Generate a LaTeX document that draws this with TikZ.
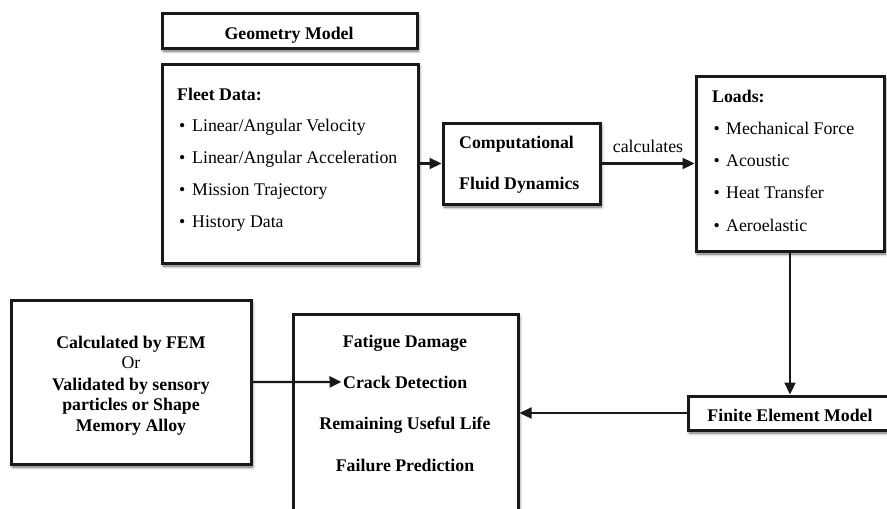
\documentclass[tikz,border=0pt]{standalone}
\usepackage{fontspec}
\setmainfont{Liberation Serif}
\usetikzlibrary{arrows.meta,shadows.blur}
\begin{document}
\begin{tikzpicture}[x=1pt,y=-1pt,
  box/.style={draw=black!90, line width=3pt, fill=white, inner sep=0pt,
    blur shadow={shadow xshift=1.5pt, shadow yshift=-3pt,
      shadow blur radius=3pt, shadow opacity=60}},
  lbl/.style={inner sep=0pt, font=\fontsize{17.8}{21}\selectfont},
  blbl/.style={inner sep=0pt, font=\fontsize{17.8}{21}\selectfont\bfseries},
  link/.style={draw=black!90, line width=2.3pt, -{Triangle[length=12pt,width=11pt]}},
  wire/.style={line width=2.3pt}
]
\useasboundingbox (0,0) rectangle (887,509);
\clip (0,0) rectangle (887,509);

% boxes
\node[box, minimum width=255pt, minimum height=35pt]  (geom)    at (289.5,30.5) {};
\node[box, minimum width=256pt, minimum height=199pt] (fleet)   at (290,163.5)  {};
\node[box, minimum width=157pt, minimum height=81pt]  (cfd)     at (521.5,163.5) {};
\node[box, minimum width=188pt, minimum height=175pt] (loads)   at (790,163.5)  {};
\node[box, minimum width=240pt, minimum height=164pt] (src)     at (131,382)    {};
\node[box, minimum width=225pt, minimum height=240pt] (results) at (405.5,434)  {};
\node[box, minimum width=207pt, minimum height=34pt]  (fem)     at (791.5,413)  {};

% box texts
\node[blbl, anchor=base] (geomtxt) at (289,39) {Geometry Model};

\node[blbl, anchor=base west] (fd0) at (177,100) {Fleet Data:};
\node[lbl, anchor=base west] (fd1) at (179,131) {\makebox[13pt][l]{\textbullet}Linear/Angular Velocity};
\node[lbl, anchor=base west] (fd2) at (179,163) {\makebox[13pt][l]{\textbullet}Linear/Angular Acceleration};
\node[lbl, anchor=base west] (fd3) at (179,195) {\makebox[13pt][l]{\textbullet}Mission Trajectory};
\node[lbl, anchor=base west] (fd4) at (179,227) {\makebox[13pt][l]{\textbullet}History Data};

\node[blbl, anchor=base west] (cfd1) at (459,148) {Computational};
\node[blbl, anchor=base west] (cfd2) at (459,189) {Fluid Dynamics};

\node[blbl, anchor=base west] (ld0) at (712,102) {Loads:};
\node[lbl, anchor=base west] (ld1) at (713.5,134) {\makebox[12.5pt][l]{\textbullet}Mechanical Force};
\node[lbl, anchor=base west] (ld2) at (713.5,166) {\makebox[12.5pt][l]{\textbullet}Acoustic};
\node[lbl, anchor=base west] (ld3) at (713.5,198) {\makebox[12.5pt][l]{\textbullet}Heat Transfer};
\node[lbl, anchor=base west] (ld4) at (713.5,231) {\makebox[12.5pt][l]{\textbullet}Aeroelastic};

\node[blbl, anchor=base] (s1) at (131,348) {Calculated by FEM};
\node[lbl,  anchor=base] (s2) at (131,368) {Or};
\node[blbl, anchor=base] (s3) at (131,390) {Validated by sensory};
\node[blbl, anchor=base] (s4) at (131,410) {particles or Shape};
\node[blbl, anchor=base] (s5) at (131,431) {Memory Alloy};

\node[blbl, anchor=base] (r1) at (405,347) {Fatigue Damage};
\node[blbl, anchor=base west] (crack) at (343,388) {Crack Detection};
\node[blbl, anchor=base] (r3) at (405,429) {Remaining Useful Life};
\node[blbl, anchor=base] (r4) at (405,471) {Failure Prediction};

\node[blbl, anchor=base] (femtxt) at (790,421) {Finite Element Model};

% connectors
\draw[link] (fleet) -- (cfd);
\draw[link] (cfd) -- node[lbl, above=11pt, anchor=base] (calc) {calculates} (loads);
\draw[link] (loads.south) -- (loads.south |- fem.north);
\draw[link] (fem.west) -- (fem.west -| results.east);
\draw[link, shorten >=1.5pt] (src.east) -- (crack.west);
\end{tikzpicture}
\end{document}
